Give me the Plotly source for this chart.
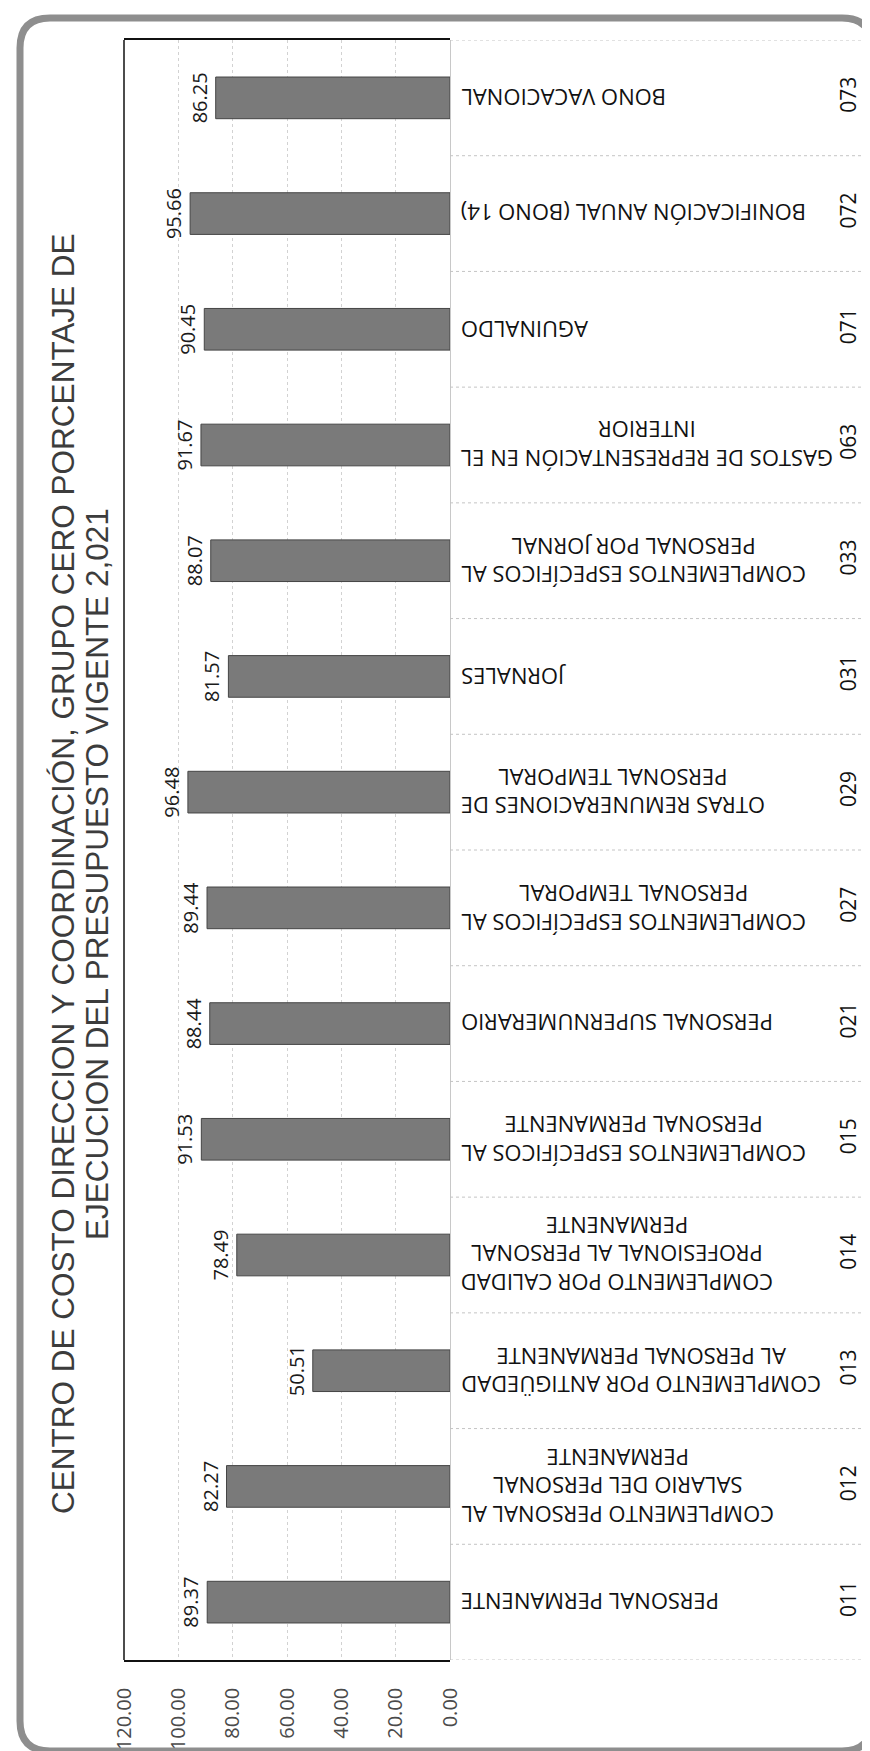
import plotly.graph_objects as go

# ---------------- data ----------------
codes = ["011", "012", "013", "014", "015", "021", "027", "029",
         "031", "033", "063", "071", "072", "073"]
names = [
    "PERSONAL PERMANENTE",
    "COMPLEMENTO PERSONAL AL<br>SALARIO DEL PERSONAL<br>PERMANENTE",
    "COMPLEMENTO POR ANTIGÜEDAD<br>AL PERSONAL PERMANENTE",
    "COMPLEMENTO POR CALIDAD<br>PROFESIONAL AL PERSONAL<br>PERMANENTE",
    "COMPLEMENTOS ESPECÍFICOS AL<br>PERSONAL PERMANENTE",
    "PERSONAL SUPERNUMERARIO",
    "COMPLEMENTOS ESPECÍFICOS AL<br>PERSONAL TEMPORAL",
    "OTRAS REMUNERACIONES DE<br>PERSONAL TEMPORAL",
    "JORNALES",
    "COMPLEMENTOS ESPECÍFICOS AL<br>PERSONAL POR JORNAL",
    "GASTOS DE REPRESENTACIÓN EN EL<br>INTERIOR",
    "AGUINALDO",
    "BONIFICACIÓN ANUAL (BONO 14)",
    "BONO VACACIONAL",
]
values = [89.37, 82.27, 50.51, 78.49, 91.53, 88.44, 89.44, 96.48,
          81.57, 88.07, 91.67, 90.45, 95.66, 86.25]
value_ticks = [0, 20, 40, 60, 80, 100, 120]
title_lines = ["CENTRO DE COSTO DIRECCION Y COORDINACIÓN, GRUPO CERO PORCENTAJE DE",
               "EJECUCION DEL PRESUPUESTO VIGENTE 2,021"]

# ---------------- layout geometry (pixels) ----------------
W, H = 870, 1751
PL, PR, PT, PB = 116, 442, 32, 1652   # plot area edges


def px_x(px):
    return (px - PL) / (PR - PL)


def px_y(py):
    return (PB - py) / (PB - PT)


fig = go.Figure()
fig.add_trace(go.Bar(
    x=values, y=codes, orientation="h",
    marker=dict(color="#7a7a7a", line=dict(color="#454545", width=1)),
    text=[f"{v:.2f}" for v in values],
    textposition="outside", textangle=-90, constraintext="none",
    textfont=dict(family="Open Sans", size=20, color="#1a1a1a"),
    cliponaxis=False, showlegend=False,
))

shapes = []
# outer rounded frame
x0, x1, y0, y1, r = 12, 864, 10, 1743, 30
pts = (f"M {px_x(x0 + r)},{px_y(y0)} L {px_x(x1 - r)},{px_y(y0)} "
       f"Q {px_x(x1)},{px_y(y0)} {px_x(x1)},{px_y(y0 + r)} "
       f"L {px_x(x1)},{px_y(y1 - r)} Q {px_x(x1)},{px_y(y1)} {px_x(x1 - r)},{px_y(y1)} "
       f"L {px_x(x0 + r)},{px_y(y1)} Q {px_x(x0)},{px_y(y1)} {px_x(x0)},{px_y(y1 - r)} "
       f"L {px_x(x0)},{px_y(y0 + r)} Q {px_x(x0)},{px_y(y0)} {px_x(x0 + r)},{px_y(y0)} Z")
shapes.append(dict(type="path", xref="paper", yref="paper", path=pts,
                   line=dict(color="#8e8e8e", width=7), layer="above"))
# left plot border
shapes.append(dict(type="line", xref="paper", yref="paper", x0=0, x1=0, y0=0, y1=1,
                   line=dict(color="#111111", width=1.5)))
# category separators in label region
for k in range(len(codes) + 1):
    shapes.append(dict(type="line", xref="paper", yref="y",
                       x0=1.0, x1=px_x(862), y0=k - 0.5, y1=k - 0.5,
                       line=dict(color="#c4c4c4", width=1, dash="dot")))

annotations = []
for i, name in enumerate(names):
    annotations.append(dict(
        x=px_x(451), xref="paper", y=i, yref="y", text=name,
        textangle=180, xanchor="left", yanchor="middle", align="center",
        showarrow=False, font=dict(family="Open Sans", size=22, color="#111111")))
for line, xp in zip(title_lines, [55, 89]):
    annotations.append(dict(
        x=px_x(xp), xref="paper", y=px_y(866), yref="paper", text=line,
        textangle=-90, xanchor="center", yanchor="middle", showarrow=False,
        font=dict(family="Liberation Sans", size=31.5, color="#3c3c3c")))

fig.update_layout(
    width=W, height=H,
    margin=dict(l=PL, r=W - PR, t=PT, b=H - PB, pad=0),
    paper_bgcolor="white", plot_bgcolor="white",
    bargap=0.64,
    shapes=shapes, annotations=annotations,
    xaxis=dict(range=[120, 0], tickvals=value_ticks, tickformat=".2f",
               tickangle=-90, ticklabelstandoff=18, ticks="",
               tickfont=dict(family="Open Sans", size=20, color="#4a4a4a"),
               showgrid=True, gridcolor="#d2d2d2", griddash="dot", gridwidth=1,
               showline=True, linecolor="#111111", linewidth=1.5, mirror=True,
               zeroline=True, zerolinecolor="#c8c8c8", zerolinewidth=1,
               automargin=False, fixedrange=True),
    yaxis=dict(type="category", categoryorder="array", categoryarray=codes,
               range=[-0.5, len(codes) - 0.5], side="right",
               tickangle=-90, ticks="", ticklabelstandoff=384,
               tickfont=dict(family="Open Sans", size=21, color="#111111"),
               showgrid=False, showline=False, zeroline=False,
               automargin=False, fixedrange=True),
)

fig.write_html("out.html")
